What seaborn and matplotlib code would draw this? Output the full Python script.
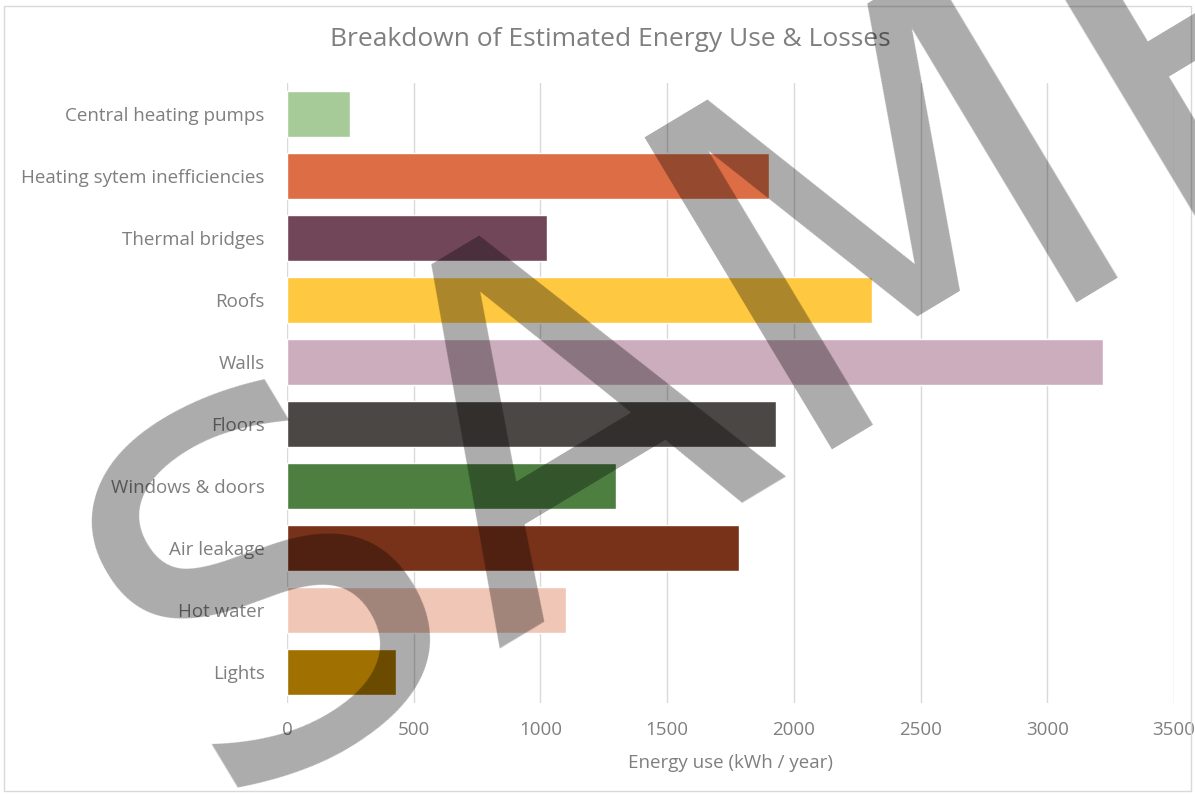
import matplotlib
matplotlib.use("Agg")
import matplotlib.pyplot as plt
import matplotlib.patches as mpatches
import seaborn as sns
import pandas as pd

categories = [
    "Central heating pumps",
    "Heating sytem inefficiencies",
    "Thermal bridges",
    "Roofs",
    "Walls",
    "Floors",
    "Windows & doors",
    "Air leakage",
    "Hot water",
    "Lights",
]
energy_use = [250, 1900, 1025, 2310, 3220, 1930, 1300, 1785, 1100, 430]
bar_colors = [
    "#A6CB98", "#DD6D45", "#714659", "#FEC840", "#CCADBD",
    "#4B4744", "#4D7F41", "#78321A", "#F0C6B6", "#A07000",
]
x_ticks = [0, 500, 1000, 1500, 2000, 2500, 3000, 3500]

title = "Breakdown of Estimated Energy Use & Losses"
x_label = "Energy use (kWh / year)"

sns.set_theme(style="white")
plt.rcParams["font.family"] = ["Open Sans", "DejaVu Sans"]
text_color = "#7F7F7F"

df = pd.DataFrame({"category": categories, "energy": energy_use})

fig = plt.figure(figsize=(11.95, 7.95), dpi=100)
ax = fig.add_axes([287 / 1195, 1 - 703 / 795, (1174 - 287) / 1195, (703 - 83) / 795])

sns.barplot(
    data=df, x="energy", y="category", hue="category",
    palette=bar_colors, order=categories, hue_order=categories,
    orient="h", width=0.74, legend=False, saturation=1, ax=ax,
)

ax.set_xlim(0, 3500)
ax.set_xticks(x_ticks)
ax.set_xticklabels([str(t) for t in x_ticks])
ax.grid(axis="x", color="#D9D9D9", linewidth=1)
ax.grid(axis="y", visible=False)
ax.set_axisbelow(True)
for s in ax.spines.values():
    s.set_visible(False)
ax.tick_params(axis="both", length=0, colors=text_color, labelsize=13.5)
ax.tick_params(axis="y", pad=16)
ax.tick_params(axis="x", pad=13)
ax.set_ylabel("")
ax.set_xlabel(x_label, color=text_color, fontsize=13.5, labelpad=11)

fig.text(610 / 1195, 1 - 40 / 795, title, ha="center", va="center",
         color=text_color, fontsize=19)

# light frame around the chart area
fig.patches.append(mpatches.Rectangle(
    (4 / 1195, 4 / 795), 1187 / 1195, 785 / 795, transform=fig.transFigure,
    fill=False, edgecolor="#D9D9D9", linewidth=1))

# watermark
fig.text(212 / 1195, 1 - 802 / 795, "SAMPLE", ha="left", va="baseline",
         rotation=31, rotation_mode="anchor", fontsize=360, color="black",
         alpha=0.33, family="DejaVu Sans", zorder=10)

fig.savefig("out.png", dpi=100)
